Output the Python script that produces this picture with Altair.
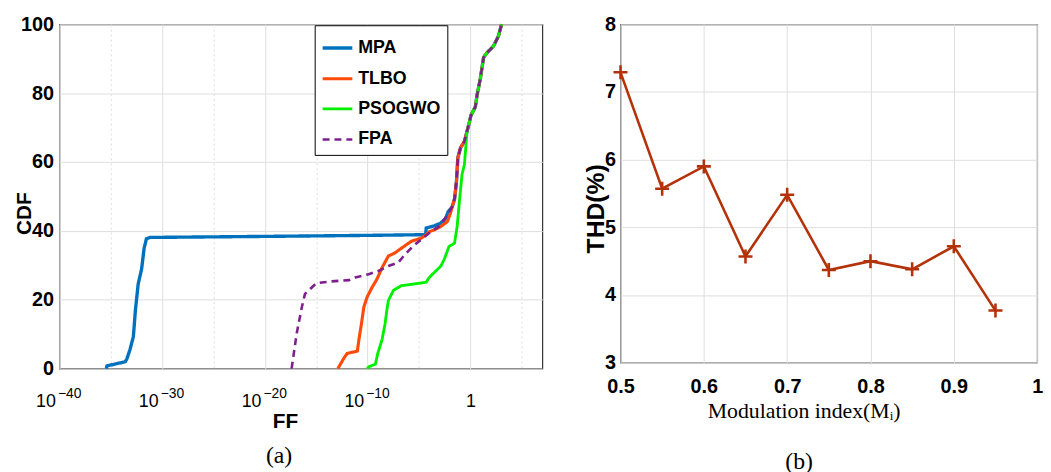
import altair as alt
import pandas as pd

# ---------------- Panel (a): CDF vs FF (FF stored as log10 values) ----------------
upper_log_ff = [-0.16, 0.06, 0.48, 0.64, 0.96, 1.28, 1.6, 2.24, 2.72, 3.04]
upper_cdf = [70.8, 73.6, 76.0, 79.3, 84.1, 90.3, 91.7, 93.6, 96.5, 100.0]

shared_mid_log_ff = [-1.77, -1.54, -1.35, -1.22, -0.96, -0.58, -0.33]
shared_mid_cdf = [47.0, 49.3, 54.6, 61.3, 64.1, 66.0, 68.9]

mpa_log_ff = [-35.43, -35.37, -33.6, -33.45, -33.13, -32.8, -32.6, -32.33, -32.0,
              -31.75, -31.53, -31.2, -20.0, -10.0, -4.36, -4.3, -3.5, -2.93,
              -2.4, -2.18]
mpa_cdf = [0.0, 0.8, 2.0, 2.7, 5.5, 9.3, 17.0, 24.6, 28.9,
           35.0, 37.7, 38.1, 38.4, 38.7, 38.9, 40.8, 41.5, 42.2,
           43.6, 45.5]

tlbo_log_ff = [-12.9, -12.3, -12.0, -11.0, -10.85, -10.6, -10.37, -10.05, -9.57,
               -9.09, -8.6, -7.98, -7.34, -6.7, -5.74, -4.78, -4.3, -3.99, -3.5,
               -2.87, -2.24, -1.95]
tlbo_cdf = [0.0, 3.1, 4.4, 5.1, 8.4, 13.1, 17.9, 20.8, 23.6,
            26.0, 29.3, 32.7, 33.6, 35.0, 37.0, 37.9, 38.9, 39.8, 40.3,
            41.3, 42.7, 45.0]

psogwo_log_ff = [-10.05, -9.9, -9.25, -9.0, -8.6, -8.3, -8.13, -7.98, -7.5, -6.7,
                 -5.43, -4.3, -4.0, -3.35, -2.87, -2.55, -2.08, -1.76, -1.54,
                 -1.29, -1.03, -0.81, -0.58, -0.33]
psogwo_cdf = [0.0, 0.5, 1.3, 4.6, 8.4, 13.1, 17.0, 19.8, 22.7, 24.1,
              24.6, 25.1, 26.5, 28.4, 29.8, 31.7, 35.5, 36.0, 36.5,
              41.3, 49.8, 56.5, 59.3, 68.9]

fpa_log_ff = [-17.4, -16.9, -16.4, -16.1, -15.6, -15.0, -13.7, -11.8, -11.2, -9.9,
              -8.93, -7.98, -7.02, -6.38, -5.6, -4.63, -3.83, -2.87, -2.08]
fpa_cdf = [0.0, 10.3, 17.9, 21.7, 23.1, 24.8, 25.3, 25.7, 26.5, 27.4,
           28.4, 29.8, 30.8, 33.1, 35.5, 37.9, 39.8, 41.7, 45.5]

series_names = ["MPA", "TLBO", "PSOGWO", "FPA"]
series_colors = ["#0072BD", "#FF4A0A", "#00F000", "#7E1F8E"]
series_dash = [[1, 0], [1, 0], [1, 0], [7, 5]]
series_width = [3.4, 2.6, 2.6, 2.6]

x_tick_exponents = [-40, -35, -30, -25, -20, -15, -10, -5, 0, 5]
x_domain_exponents = [-40, 7]

curves = {
    "MPA": (mpa_log_ff + shared_mid_log_ff + upper_log_ff, mpa_cdf + shared_mid_cdf + upper_cdf),
    "TLBO": (tlbo_log_ff + shared_mid_log_ff + upper_log_ff, tlbo_cdf + shared_mid_cdf + upper_cdf),
    "PSOGWO": (psogwo_log_ff + upper_log_ff, psogwo_cdf + upper_cdf),
    "FPA": (fpa_log_ff + shared_mid_log_ff + upper_log_ff, fpa_cdf + shared_mid_cdf + upper_cdf),
}
rows = []
for k, name in enumerate(series_names):
    lx, cy = curves[name]
    for i, (a, b) in enumerate(zip(lx, cy)):
        rows.append({"series": name, "ff": 10.0 ** a, "cdf": b, "idx": i, "k": k})
df_a = pd.DataFrame(rows)

# ---------------- Panel (b): THD vs modulation index ----------------
mod_index = [0.5, 0.55, 0.6, 0.65, 0.7, 0.75, 0.8, 0.85, 0.9, 0.95]
thd_percent = [7.29, 5.57, 5.90, 4.57, 5.48, 4.37, 4.50, 4.38, 4.72, 3.77]
df_b = pd.DataFrame({"m": mod_index, "thd": thd_percent})

SANS = "Liberation Sans"
SERIF = "Liberation Serif"
GRID = "#DEDEDE"

EXP = "round(log(datum.value)/LN10)"
major_expr = " : ".join(
    [f"{EXP} == {e} ? '{'1' if e == 0 else '10'}'" for e in x_tick_exponents if e % 10 == 0]
) + " : ''"
exp_expr = " : ".join(
    [f"{EXP} == {e} ? '\u2212{abs(e)}'" for e in x_tick_exponents if e % 10 == 0 and e != 0]
) + " : ''"

x_scale_a = alt.Scale(type="log", domain=[10.0 ** x_domain_exponents[0], 10.0 ** x_domain_exponents[1]], nice=False)
x_values_a = [10.0 ** e for e in x_tick_exponents]

x_a = alt.X(
    "ff:Q",
    scale=x_scale_a,
    axis=alt.Axis(
        orient="bottom",
        values=x_values_a,
        labelExpr=major_expr,
        labelAlign={"condition": {"test": "datum.value == 1", "value": "center"}, "value": "right"},
        labelOffset={"condition": {"test": "datum.value == 1", "value": 0}, "value": -4},
        labelFlush=False, labelOverlap=False,
        title="FF",
        titleFont=SANS, titleFontSize=21, titleFontWeight="bold", titleColor="black",
        titleX=228, titleY=53, titleBaseline="middle", titleAlign="center",
        labelFont=SANS, labelFontSize=18, labelColor="black", labelPadding=24,
        ticks=False, domain=False,
        grid=True, gridColor=GRID, gridWidth=1,
        gridDash={"condition": {"test": f"abs({EXP}) % 10 != 0", "value": [2, 3]}, "value": []},
    ),
)
x_a_exp = alt.X(
    "ff:Q",
    scale=x_scale_a,
    axis=alt.Axis(
        orient="bottom",
        values=x_values_a,
        labelExpr=exp_expr,
        labelAlign="left",
        labelOffset=-2,
        labelFlush=False, labelOverlap=False,
        title=None,
        labelFont=SANS, labelFontSize=14, labelColor="black", labelPadding=18,
        ticks=False, domain=False, grid=False,
    ),
)
y_a = alt.Y(
    "cdf:Q",
    scale=alt.Scale(domain=[0, 100], nice=False),
    axis=alt.Axis(
        values=[0, 20, 40, 60, 80, 100],
        title="CDF",
        titleFont=SANS, titleFontSize=21, titleFontWeight="bold", titleColor="black",
        titleX=-35, titleY=191, titleAngle=-90, titleBaseline="middle", titleAlign="center",
        labelFont=SANS, labelFontSize=20, labelFontWeight="bold", labelColor="black", labelPadding=6,
        ticks=False, domain=False,
        grid=True, gridColor=GRID, gridWidth=1,
    ),
)

legend_common = dict(
    orient="none", legendX=258, legendY=1, title=None,
    strokeColor="black", fillColor="white", padding=6,
    symbolType="stroke", symbolStrokeWidth=3, symbolSize=900,
    labelFont=SANS, labelFontSize=18, labelFontWeight="bold", labelColor="black",
    rowPadding=5, labelOffset=4, labelLimit=200, cornerRadius=0,
)

lines_a = alt.Chart(df_a).mark_line().encode(
    x=x_a,
    y=y_a,
    color=alt.Color("series:N", scale=alt.Scale(domain=series_names, range=series_colors),
                    legend=alt.Legend(**legend_common)),
    strokeDash=alt.StrokeDash("series:N", scale=alt.Scale(domain=series_names, range=series_dash),
                              legend=alt.Legend(**legend_common)),
    strokeWidth=alt.StrokeWidth("series:N", scale=alt.Scale(domain=series_names, range=series_width),
                                legend=None),
    order="idx:Q",
    detail="k:Q",
)
exp_layer_a = alt.Chart(df_a).mark_point(opacity=0, size=1).encode(x=x_a_exp, y=y_a)

panel_a = alt.layer(lines_a, exp_layer_a).resolve_axis(x="independent").properties(
    width=488, height=348,
    title=alt.TitleParams(text="(a)", orient="bottom", font=SERIF, fontSize=24, fontWeight="normal",
                          color="black", anchor="middle", dx=-22, offset=13),
)

x_b = alt.X(
    "m:Q",
    scale=alt.Scale(domain=[0.5, 1.0], nice=False),
    axis=alt.Axis(
        values=[0.5, 0.6, 0.7, 0.8, 0.9, 1.0],
        labelExpr="datum.value == 1 ? '1' : format(datum.value, '.1f')",
        labelFlush=False,
        title="Modulation index(M\u1d62)",
        titleFont=SERIF, titleFontSize=22, titleFontWeight="normal", titleColor="black",
        titleX=185, titleY=48, titleBaseline="middle", titleAlign="center",
        labelFont=SANS, labelFontSize=20, labelFontWeight="bold", labelColor="black", labelPadding=14,
        ticks=False, domain=False,
        grid=True, gridColor=GRID, gridWidth=1,
    ),
)
y_b = alt.Y(
    "thd:Q",
    scale=alt.Scale(domain=[3, 8], nice=False),
    axis=alt.Axis(
        values=[3, 4, 5, 6, 7, 8],
        title="THD(%)",
        titleFont=SANS, titleFontSize=25, titleFontWeight="bold", titleColor="black",
        titleX=-25, titleY=186, titleAngle=-90, titleBaseline="middle", titleAlign="center",
        labelFont=SANS, labelFontSize=20, labelFontWeight="bold", labelColor="black", labelPadding=5,
        ticks=False, domain=False,
        grid=True, gridColor=GRID, gridWidth=1,
    ),
)

LINE_B = "#B4320A"
base_b = alt.Chart(df_b).encode(x=x_b, y=y_b)
panel_b = alt.layer(
    base_b.mark_line(color=LINE_B, strokeWidth=2.6),
    base_b.mark_point(shape="M-1,0L1,0M0,-1L0,1", size=200, filled=False, color=LINE_B,
                      strokeWidth=2.6, opacity=1),
).properties(
    width=421, height=342,
    title=alt.TitleParams(text="(b)", orient="bottom", font=SERIF, fontSize=24, fontWeight="normal",
                          color="black", anchor="middle", dx=-30, offset=29),
)

chart = alt.hconcat(panel_a, panel_b, spacing=40).properties(
    padding={"left": 13, "top": 11, "right": 7, "bottom": 2},
    background="white",
).configure_view(stroke="#333333", strokeWidth=1.2)

chart.save("out.html", embed_options={"renderer": "svg", "actions": False})
